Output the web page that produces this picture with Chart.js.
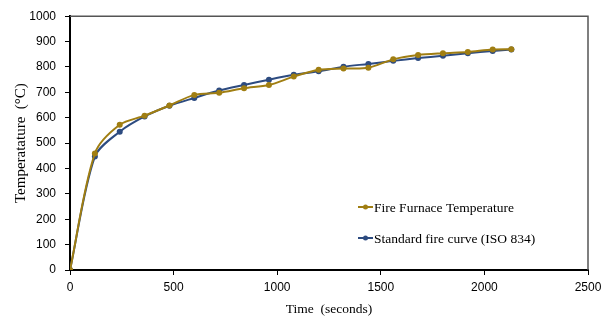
<!DOCTYPE html>
<html>
<head>
<meta charset="utf-8">
<script src="https://cdn.jsdelivr.net/npm/chart.js@4.4.1/dist/chart.umd.min.js"></script>
<style>
  html, body { margin: 0; padding: 0; background: #fff; }
  #wrap { width: 609px; height: 322px; }
</style>
</head>
<body>
<div id="wrap"><canvas id="line-chart" width="609" height="322"></canvas></div>
<script>
    // time in seconds, temperatures in °C
    var times = [0, 120, 240, 360, 480, 600, 720, 840, 960, 1080, 1200, 1320, 1440, 1560, 1680, 1800, 1920, 2040, 2130];
    var furnaceTemp = [0, 459, 572, 608, 648, 690, 698, 716, 729, 762, 789, 794, 797, 830, 847, 854, 859, 869, 870];
    var isoTemp = [0, 447, 545, 605, 647, 678, 707, 729, 750, 769, 783, 801, 812, 824, 835, 844, 854, 863, 869];
    var xTicks = [0, 500, 1000, 1500, 2000, 2500];
    var yTicks = [0, 100, 200, 300, 400, 500, 600, 700, 800, 900, 1000];

    var seriesNames = ["Fire Furnace Temperature", "Standard fire curve (ISO 834)"];
    var gold = "#a07e12";
    var blue = "#2d4b80";

    function toPoints(vals) {
        return times.map(function (t, i) { return { x: t, y: vals[i] }; });
    }

    // box round the plot area plus the legend that sits inside it
    var frame = {
        id: 'frame',
        afterDraw: function (chart) {
            var ctx = chart.ctx, a = chart.chartArea;
            ctx.save();
            ctx.strokeStyle = "#555";
            ctx.lineWidth = 1.5;
            ctx.beginPath();
            ctx.moveTo(a.left, a.top);
            ctx.lineTo(a.right, a.top);
            ctx.lineTo(a.right, a.bottom);
            ctx.stroke();

            ctx.font = "13.5px 'Liberation Serif'";
            ctx.textBaseline = "middle";
            ctx.textAlign = "left";
            chart.data.datasets.forEach(function (ds, i) {
                var y = 207 + i * 31;
                ctx.strokeStyle = ds.borderColor;
                ctx.lineWidth = 2;
                ctx.beginPath();
                ctx.moveTo(358, y);
                ctx.lineTo(373, y);
                ctx.stroke();
                ctx.fillStyle = ds.borderColor;
                ctx.beginPath();
                ctx.arc(365.5, y, 2.5, 0, Math.PI * 2);
                ctx.fill();
                ctx.fillStyle = "#000";
                ctx.fillText(ds.label, 374, y + 1);
            });
            ctx.restore();
        }
    };

    var plain = function (v) { return String(v); };

    new Chart(document.getElementById("line-chart"), {
        type: 'line',
        data: {
            datasets: [{
                label: seriesNames[0],
                data: toPoints(furnaceTemp),
                borderColor: gold,
                backgroundColor: gold,
                borderWidth: 2,
                pointRadius: 3,
                pointBorderWidth: 0,
                pointHoverRadius: 3,
                tension: 0.3,
                fill: false
            }, {
                label: seriesNames[1],
                data: toPoints(isoTemp),
                borderColor: blue,
                backgroundColor: blue,
                borderWidth: 2,
                pointRadius: 3,
                pointBorderWidth: 0,
                pointHoverRadius: 3,
                tension: 0.3,
                fill: false
            }]
        },
        options: {
            responsive: false,
            animation: false,
            layout: { padding: { left: 0, right: 21, top: 15, bottom: 0 } },
            plugins: {
                legend: { display: false },
                tooltip: { enabled: false }
            },
            scales: {
                x: {
                    type: 'linear',
                    min: 0,
                    max: 2500,
                    afterBuildTicks: function (axis) {
                        axis.ticks = xTicks.map(function (v) { return { value: v }; });
                    },
                    afterFit: function (axis) { axis.height = 52; },
                    grid: { drawOnChartArea: false, color: "#000", tickLength: 5 },
                    border: { color: "#000", width: 2 },
                    ticks: { color: "#000", padding: 5, maxRotation: 0, callback: plain, font: { family: "'Liberation Sans'", size: 12 } },
                    title: { display: true, text: "Time  (seconds)", color: "#000", padding: { top: 6 }, font: { family: "'Liberation Serif'", size: 13.5 } }
                },
                y: {
                    min: 0,
                    max: 1000,
                    afterBuildTicks: function (axis) {
                        axis.ticks = yTicks.map(function (v) { return { value: v }; });
                    },
                    afterFit: function (axis) { axis.width = 70; },
                    grid: { drawOnChartArea: false, color: "#000", tickLength: 5 },
                    border: { color: "#000", width: 2 },
                    ticks: { color: "#000", padding: 9, callback: plain, font: { family: "'Liberation Sans'", size: 12 } },
                    title: { display: true, text: "Temperatature  (°C)", color: "#000", padding: { top: 12, bottom: 0 }, font: { family: "'Liberation Serif'", size: 15 } }
                }
            }
        },
        plugins: [frame]
    });
</script>
</body>
</html>
